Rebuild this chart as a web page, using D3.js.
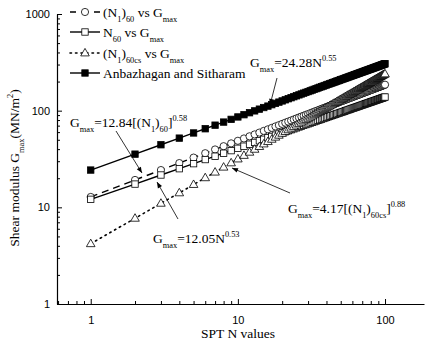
<!DOCTYPE html>
<html><head><meta charset="utf-8">
<script src="https://cdn.jsdelivr.net/npm/d3@7/dist/d3.min.js"></script>
<style>body{margin:0;background:#fff}</style>
</head><body>
<svg id="chart" width="432" height="346"></svg>
<script>
// ---------- DATA ----------
const nValues = [1,2,3,4,5,6,7,8,9,10,11,12,13,14,15,16,17,18,19,20,
21,22,23,24,25,26,27,28,29,30,31,32,33,34,35,36,37,38,39,40,
41,42,43,44,45,46,47,48,49,50,51,52,53,54,55,56,57,58,59,60,
61,62,63,64,65,66,67,68,69,70,71,72,73,74,75,76,77,78,79,80,
81,82,83,84,85,86,87,88,89,90,91,92,93,94,95,96,97,98,99,100];

// (N1)60 vs Gmax  (open circles, dashed)
const gmaxN160 = [12.8,19.2,24.3,28.7,32.7,36.3,39.7,42.9,45.9,48.8,
51.6,54.3,56.8,59.3,61.8,64.1,66.4,68.7,70.8,73.0,
75.1,77.1,79.1,81.1,83.1,85.0,86.9,88.7,90.5,92.3,
94.1,95.9,97.6,99.3,101.0,102.6,104.3,105.9,107.5,109.1,
110.7,112.2,113.8,115.3,116.8,118.3,119.8,121.3,122.7,124.2,
125.6,127.0,128.4,129.8,131.2,132.6,134.0,135.3,136.7,138.0,
139.4,140.7,142.0,143.3,144.6,145.8,147.1,148.4,149.7,150.9,
152.2,153.4,154.6,155.9,157.1,158.3,159.5,160.7,161.9,163.1,
164.3,165.4,166.6,167.8,168.9,170.1,171.2,172.4,173.5,174.6,
175.7,176.9,178.0,179.1,180.2,181.3,182.4,183.4,184.5,185.6];

// N60 vs Gmax  (open squares, solid)
const gmaxN60 = [12.1,17.4,21.6,25.1,28.3,31.2,33.8,36.3,38.6,40.8,
42.9,45.0,46.9,48.8,50.6,52.4,54.1,55.8,57.4,59.0,
60.5,62.0,63.5,64.9,66.4,67.8,69.1,70.5,71.8,73.1,
74.4,75.6,76.9,78.1,79.3,80.5,81.7,82.9,84.0,85.1,
86.3,87.4,88.5,89.6,90.6,91.7,92.7,93.8,94.8,95.8,
96.8,97.8,98.8,99.8,100.8,101.8,102.7,103.7,104.6,105.6,
106.5,107.4,108.3,109.2,110.1,111.0,111.9,112.8,113.7,114.5,
115.4,116.3,117.1,118.0,118.8,119.6,120.5,121.3,122.1,122.9,
123.7,124.5,125.4,126.2,126.9,127.7,128.5,129.3,130.1,130.8,
131.6,132.4,133.1,133.9,134.7,135.4,136.2,136.9,137.6,138.4];

// (N1)60cs vs Gmax  (open triangles, dotted)
const gmaxN160cs = [4.2,7.7,11.0,14.1,17.2,20.2,23.1,26.0,28.8,31.6,
34.4,37.1,39.8,42.5,45.2,47.8,50.5,53.1,55.6,58.2,
60.8,63.3,65.8,68.3,70.8,73.3,75.8,78.3,80.7,83.2,
85.6,88.0,90.5,92.9,95.3,97.6,100.0,102.4,104.8,107.2,
109.5,111.8,114.2,116.5,118.8,121.2,123.5,125.8,128.1,130.4,
132.7,135.0,137.3,139.5,141.8,144.1,146.3,148.6,150.8,153.1,
155.3,157.6,159.8,162.0,164.3,166.5,168.7,170.9,173.1,175.3,
177.5,179.7,181.9,184.1,186.3,188.5,190.6,192.8,195.0,197.2,
199.4,201.5,203.7,205.8,208.0,210.1,212.3,214.4,216.6,218.7,
220.8,223.0,225.1,227.2,229.4,231.5,233.6,235.7,237.8,239.9];

// Anbazhagan and Sitharam  (filled squares, solid)
const gmaxAnbazhagan = [24.3,35.5,44.4,52.0,58.8,65.0,70.8,76.2,81.3,86.1,
90.8,95.2,99.5,103.7,107.7,111.5,115.3,119.0,122.6,126.1,
129.5,132.9,136.1,139.4,142.5,145.7,148.8,151.8,154.7,157.6,
160.5,163.3,166.2,168.9,171.6,174.3,176.9,179.5,182.1,184.7,
187.2,189.6,192.1,194.5,197.0,199.4,201.8,204.1,206.4,208.8,
211.0,213.3,215.5,217.7,220.0,222.2,224.4,226.5,228.7,230.8,
232.9,235.0,237.0,239.1,241.2,243.2,245.3,247.2,249.2,251.2,
253.2,255.1,257.0,259.0,260.9,262.8,264.7,266.6,268.4,270.3,
272.2,274.0,275.8,277.7,279.5,281.3,283.1,284.9,286.7,288.4,
290.2,291.9,293.7,295.4,297.1,298.9,300.5,302.3,304.0,305.6];

const xMajorTicks = [1, 10, 100];
const xMinorTicks = [0.6,0.7,0.8,0.9,2,3,4,5,6,7,8,9,20,30,40,50,60,70,80,90];
const yMajorTicks = [1, 10, 100, 1000];
const yMinorTicks = [2,3,4,5,6,7,8,9,20,30,40,50,60,70,80,90,200,300,400,500,600,700,800,900];

// ---------- SETUP ----------
const svg = d3.select("#chart");
const SERIF = "'Liberation Serif','Times New Roman',serif";
const SANS = "'Liberation Sans',Arial,sans-serif";

const x = d3.scaleLog().domain([0.59, 184]).range([57, 424]);
const y = d3.scaleLog().domain([1, 1000]).range([304, 14]);

svg.append("defs").append("marker")
  .attr("id", "arrow").attr("viewBox", "0 0 10 10")
  .attr("refX", 10).attr("refY", 5)
  .attr("markerWidth", 7).attr("markerHeight", 6)
  .attr("markerUnits", "userSpaceOnUse").attr("orient", "auto")
  .append("path").attr("d", "M0,1L10,5L0,9Z").attr("fill", "#000");

// rich text helper with sub/superscripts
function rich(parent, px, py, segs, fs, transform) {
  const t = parent.append("text").attr("x", px).attr("y", py)
    .attr("font-family", SERIF).attr("font-size", fs).attr("fill", "#000");
  if (transform) t.attr("transform", transform).attr("text-anchor", "middle");
  let cur = 0;
  segs.forEach(s => {
    const target = s.sub ? fs * 0.38 : (s.sup ? -fs * 0.42 : 0);
    const ts = t.append("tspan").text(s.t).attr("dy", target - cur);
    if (s.sub || s.sup) ts.attr("font-size", fs * 0.62);
    cur = target;
  });
  return t;
}

// ---------- AXES ----------
const gx = svg.append("g").attr("transform", "translate(0,304)");
gx.call(d3.axisBottom(x).tickValues(xMinorTicks).tickSize(-3).tickSizeOuter(0).tickFormat(""));
gx.select(".domain").remove();
const gx2 = svg.append("g").attr("transform", "translate(0,304)");
gx2.call(d3.axisBottom(x).tickValues(xMajorTicks).tickSize(-5).tickSizeOuter(0)
  .tickPadding(12).tickFormat(d3.format("d")));
gx2.selectAll("text").attr("font-family", SANS).attr("font-size", 11);

const gy = svg.append("g").attr("transform", "translate(57,0)");
gy.call(d3.axisLeft(y).tickValues(yMinorTicks).tickSize(-3).tickSizeOuter(0).tickFormat(""));
gy.select(".domain").remove();
const gy2 = svg.append("g").attr("transform", "translate(57,0)");
gy2.call(d3.axisLeft(y).tickValues(yMajorTicks).tickSize(-5).tickSizeOuter(0)
  .tickPadding(7).tickFormat(d3.format("d")));
gy2.selectAll("text").attr("font-family", SANS).attr("font-size", 11);
svg.selectAll(".domain").attr("stroke", "#000").attr("stroke-width", 1.2);
svg.selectAll(".tick line").attr("stroke", "#000").attr("stroke-width", 1);

// axis titles
svg.append("text").attr("x", 238).attr("y", 338).attr("text-anchor", "middle")
  .attr("font-family", SERIF).attr("font-size", 13.5).text("SPT N values");
rich(svg, 0, 0, [{t:"Shear modulus G"},{t:"max",sub:true},{t:"(MN/m"},{t:"2",sup:true},{t:")"}],
  13.5, "translate(19,168) rotate(-90)");

// ---------- SERIES ----------
const marker = {
  circle: g => g.append("circle").attr("r", 3.6),
  square: g => g.append("rect").attr("x", -3.2).attr("y", -3.2).attr("width", 6.4).attr("height", 6.4),
  triangle: g => g.append("path").attr("d", "M0,-4.6L4.3,2.9L-4.3,2.9Z")
};

const series = [
  {name:"n160", values:gmaxN160, shape:"circle", fill:"#fff", dash:"7,5"},
  {name:"n60", values:gmaxN60, shape:"square", fill:"#fff", dash:null},
  {name:"n160cs", values:gmaxN160cs, shape:"triangle", fill:"#fff", dash:"1.5,4"},
  {name:"anb", values:gmaxAnbazhagan, shape:"square", fill:"#000", dash:null}
];

const line = d3.line().x((d,i) => x(nValues[i])).y(d => y(d));

series.forEach(s => {
  const g = svg.append("g");
  const p = g.append("path").datum(s.values).attr("d", line)
    .attr("fill", "none").attr("stroke", "#000").attr("stroke-width", 1.4);
  if (s.dash) p.attr("stroke-dasharray", s.dash);
  if (s.name === "n160cs") p.attr("stroke-linecap", "round").attr("stroke-width", 1.6);
  s.values.forEach((v, i) => {
    const mg = g.append("g").attr("transform", `translate(${x(nValues[i])},${y(v)})`);
    marker[s.shape](mg).attr("fill", s.fill).attr("stroke", "#000").attr("stroke-width", 0.8);
  });
});

// ---------- LEGEND ----------
const legendItems = [
  {series:0, segs:[{t:"(N"},{t:"1",sub:true},{t:")"},{t:"60",sub:true},{t:" vs G"},{t:"max",sub:true}]},
  {series:1, segs:[{t:"N"},{t:"60",sub:true},{t:" vs G"},{t:"max",sub:true}]},
  {series:2, segs:[{t:"(N"},{t:"1",sub:true},{t:")"},{t:"60cs",sub:true},{t:" vs G"},{t:"max",sub:true}]},
  {series:3, segs:[{t:"Anbazhagan and Sitharam"}]}
];
const legendY = [12, 32, 53, 73];
legendItems.forEach((it, k) => {
  const s = series[it.series];
  const g = svg.append("g").attr("transform", `translate(0,${legendY[k]})`);
  const l = g.append("line").attr("x1", 70).attr("x2", 100).attr("y1", 0).attr("y2", 0)
    .attr("stroke", "#000").attr("stroke-width", 1.4);
  if (k === 0) l.attr("stroke-dasharray", "6,6");
  if (k === 2) l.attr("stroke-dasharray", "1.5,4").attr("stroke-linecap", "round").attr("stroke-width", 1.6);
  const mg = g.append("g").attr("transform", "translate(85,0)");
  marker[s.shape](mg).attr("fill", s.fill).attr("stroke", "#000").attr("stroke-width", 0.8);
  rich(g, 103, 5, it.segs, 13.5);
});

// ---------- ANNOTATIONS ----------
const annotations = [
  {tx:250, ty:67, segs:[{t:"G"},{t:"max",sub:true},{t:"=24.28N"},{t:"0.55",sup:true}], from:[277,78], to:[270,105]},
  {tx:70, ty:127, segs:[{t:"G"},{t:"max",sub:true},{t:"=12.84[(N"},{t:"1",sub:true},{t:")"},{t:"60",sub:true},{t:"]"},{t:"0.58",sup:true}], from:[116,131], to:[142,173]},
  {tx:153, ty:243, segs:[{t:"G"},{t:"max",sub:true},{t:"=12.05N"},{t:"0.53",sup:true}], from:[178,219], to:[157,182]},
  {tx:288, ty:213, segs:[{t:"G"},{t:"max",sub:true},{t:"=4.17[(N"},{t:"1",sub:true},{t:")"},{t:"60cs",sub:true},{t:"]"},{t:"0.88",sup:true}], from:[290,193], to:[232,168]}
];
annotations.forEach(a => {
  rich(svg, a.tx, a.ty, a.segs, 13.5);
  svg.append("line").attr("x1", a.from[0]).attr("y1", a.from[1]).attr("x2", a.to[0]).attr("y2", a.to[1])
    .attr("stroke", "#000").attr("stroke-width", 0.8).attr("marker-end", "url(#arrow)");
});
</script>
</body></html>
